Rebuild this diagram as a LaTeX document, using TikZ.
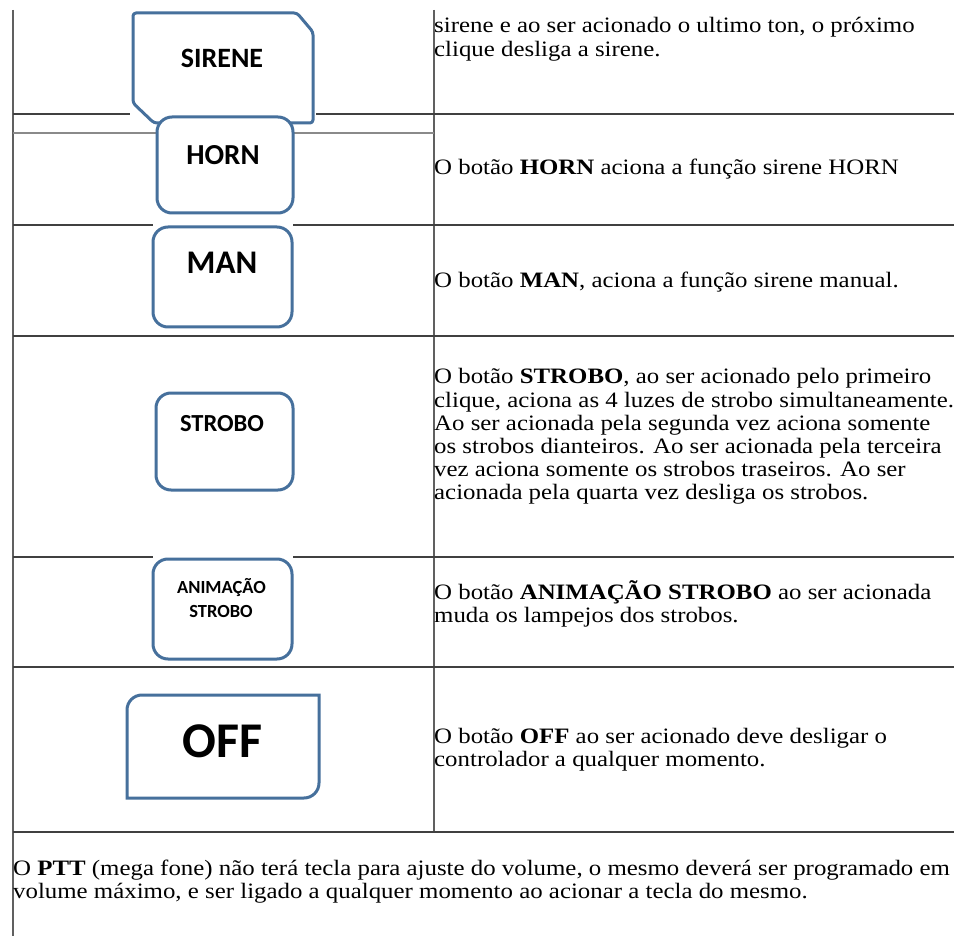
\documentclass[tikz,border=0pt]{standalone}
\usepackage{fontspec}
\setmainfont[FakeStretch=1.13]{Liberation Serif}
\newfontfamily\btnfont{Carlito}
\begin{document}
\begin{tikzpicture}[x=1pt,y=-1pt,
  txt/.style={anchor=base west,inner sep=0pt,font=\fontsize{22}{23.3}\selectfont},
  btnline/.style={draw=btnblue,line width=3pt,fill=white},
  lbl/.style={anchor=base,inner sep=0pt,text=black},
  hline/.style={draw=lineDark,line width=2.6pt},
  vline/.style={draw=lineGray,line width=2.4pt}]
\definecolor{btnblue}{HTML}{46709C}
\definecolor{lineDark}{HTML}{404040}
\definecolor{lineGray}{HTML}{606060}
\definecolor{lineLight}{HTML}{8A8A8A}
\useasboundingbox (0,0) rectangle (954,936);
\fill[white] (0,0) rectangle (954,936);

% table lines
\draw[vline] (13,10) -- (13,936);
\draw[vline] (434,10) -- (434,832);
\draw[hline] (13,114) -- (954,114);
\draw[draw=lineLight,line width=2pt] (13,133) -- (434,133);
\draw[hline] (13,225) -- (954,225);
\draw[hline] (13,336) -- (954,336);
\draw[hline] (13,557) -- (954,557);
\draw[hline] (13,667) -- (954,667);
\draw[hline] (13,832) -- (954,832);

% SIRENE button
\fill[white] (130,10) rectangle (316,124);
\draw[btnline,line join=round,rounded corners=3pt] (133,13) -- (297,13) -- (313,32) -- (313,123) -- (154,123) -- (133,103) -- cycle;
\node[lbl,font=\btnfont\bfseries\fontsize{28}{30}\selectfont] (sirene) at (222,68) {SIRENE};

% HORN button
\draw[btnline,rounded corners=15pt] (157,117) rectangle (293,213);
\node[lbl,font=\btnfont\bfseries\fontsize{29}{30}\selectfont] (horn) at (223,165) {HORN};

% MAN button
\fill[white] (153,222) rectangle (293,228);
\draw[btnline,rounded corners=15pt] (153,227) rectangle (292,327);
\node[lbl,font=\btnfont\bfseries\fontsize{33}{34}\selectfont] (man) at (222,274) {MAN};

% STROBO button
\draw[btnline,rounded corners=15pt] (156,393) rectangle (293,490);
\node[lbl,font=\btnfont\bfseries\fontsize{24.5}{26}\selectfont] (strobo) at (222,431) {STROBO};

% ANIMACAO STROBO button
\fill[white] (153,554) rectangle (293,560);
\draw[btnline,rounded corners=15pt] (153,559) rectangle (292,659);
\node[lbl,font=\btnfont\bfseries\fontsize{18.5}{20}\selectfont] (anim1) at (221.5,593) {ANIMAÇÃO};
\node[lbl,font=\btnfont\bfseries\fontsize{18.5}{20}\selectfont] (anim2) at (221,617) {STROBO};

% OFF button
\draw[btnline] (127,798) -- (127,710) arc[start angle=180,end angle=270,radius=15] -- (319,695) -- (319,783) arc[start angle=0,end angle=90,radius=15] -- cycle;
\node[lbl,font=\btnfont\bfseries\fontsize{50}{52}\selectfont] (off) at (222.5,757) {OFF};

% right column texts
\node[txt] (t1a) at (434,33) {sirene e ao ser acionado o ultimo ton, o próximo};
\node[txt] (t1b) at (434,56.5) {clique desliga a sirene.};

\node[txt] (t2) at (434,175) {O botão \textbf{HORN} aciona a função sirene HORN};

\node[txt] (t3) at (434,288) {O botão \textbf{MAN}, aciona a função sirene manual.};

\node[txt] (t4a) at (434,384) {O botão \textbf{STROBO}, ao ser acionado pelo primeiro};
\node[txt] (t4b) at (434,407) {clique, aciona as 4 luzes de strobo simultaneamente.};
\node[txt] (t4c) at (434,430) {Ao ser acionada pela segunda vez aciona somente};
\node[txt] (t4d) at (434,453) {os strobos dianteiros. Ao ser acionada pela terceira};
\node[txt] (t4e) at (434,476) {vez aciona somente os strobos traseiros. Ao ser};
\node[txt] (t4f) at (434,499) {acionada pela quarta vez desliga os strobos.};

\node[txt] (t5a) at (434,599) {O botão \textbf{ANIMAÇÃO STROBO} ao ser acionada};
\node[txt] (t5b) at (434,622) {muda os lampejos dos strobos.};

\node[txt] (t6a) at (434,743) {O botão \textbf{OFF} ao ser acionado deve desligar o};
\node[txt] (t6b) at (434,766) {controlador a qualquer momento.};

\node[txt] (t7a) at (13,875) {O \textbf{PTT} (mega fone) não terá tecla para ajuste do volume, o mesmo deverá ser programado em};
\node[txt] (t7b) at (13,898) {volume máximo, e ser ligado a qualquer momento ao acionar a tecla do mesmo.};
\end{tikzpicture}
\end{document}
